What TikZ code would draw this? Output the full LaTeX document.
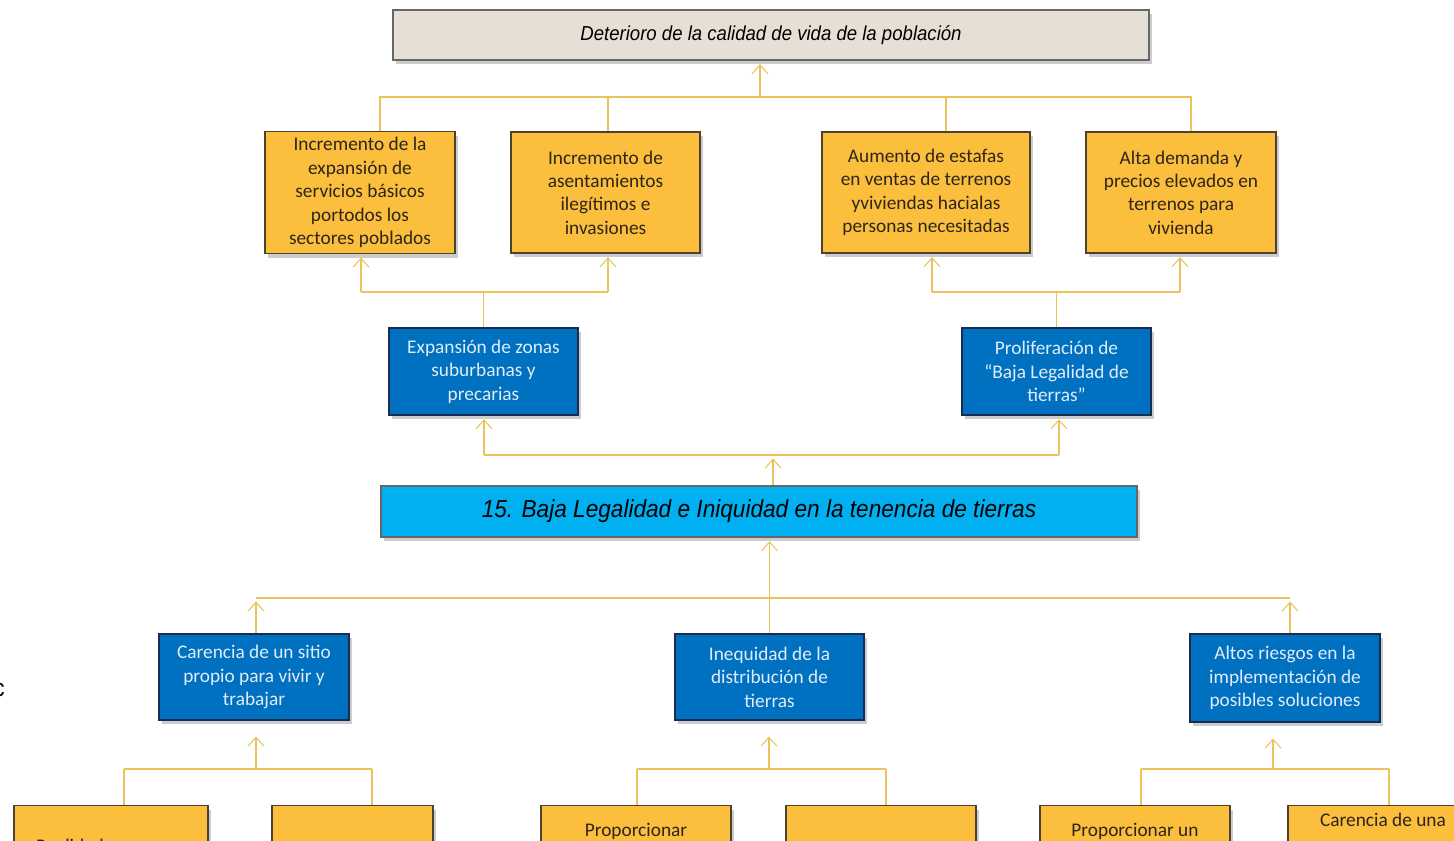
\documentclass[tikz,border=0pt]{standalone}
\usepackage{fontspec}
\usetikzlibrary{arrows.meta,shadows}
\newfontfamily\boxfont{Carlito}
\newfontfamily\headfont{Liberation Sans}[FakeStretch=0.92]
\definecolor{orangebox}{RGB}{251,190,61}
\definecolor{oborder}{RGB}{77,66,45}
\definecolor{otext}{RGB}{45,38,25}
\definecolor{bluebox}{RGB}{0,112,192}
\definecolor{bborder}{RGB}{25,45,80}
\definecolor{btext}{RGB}{225,236,248}
\definecolor{cyanbox}{RGB}{0,176,240}
\definecolor{topbox}{RGB}{230,223,213}
\definecolor{linecol}{RGB}{234,196,90}

\begin{document}
\begin{tikzpicture}[x=0.02cm, y=-0.02cm,
    shade/.style={drop shadow={shadow xshift=1.5pt, shadow yshift=-2.5pt, opacity=0.4}},
    obox/.style={draw=oborder, fill=orangebox, line width=0.8pt, shade, align=center,
        text=otext, font=\boxfont\fontsize{11}{13.3}\selectfont},
    bbox/.style={draw=bborder, fill=bluebox, line width=0.8pt, shade, align=center,
        text=btext, font=\boxfont\fontsize{11}{13.3}\selectfont},
    hbox/.style={draw=black!60, line width=0.8pt, shade, text=black},
    cline/.style={draw=linecol, line width=0.6pt},
    arr/.style={cline, -{Straight Barb[length=5pt,width=9pt]}, shorten >=2pt}]
    \useasboundingbox (0,0) rectangle (1454,841);
    \clip (0,0) rectangle (1454,841);
    \fill[white] (0,0) rectangle (1454,841);
    % Effects
    \node[hbox, fill=topbox, minimum width=15.12cm, minimum height=1cm,
        font=\headfont\itshape\fontsize{11.5}{13}\selectfont] (top) at (771,35)
        {Deterioro de la calidad de vida de la población};
    \node[obox, minimum width=3.8cm, minimum height=2.42cm] (A) at (360,192.5)
        {Incremento de la\\expansión de\\servicios básicos\\portodos los\\sectores poblados};
    \node[obox, minimum width=3.78cm, minimum height=2.42cm] (B) at (605.5,192.5)
        {Incremento de\\asentamientos\\ilegítimos e\\invasiones};
    \node[obox, minimum width=4.16cm, minimum height=2.42cm] (C) at (926,192.5)
        {Aumento de estafas\\en ventas de terrenos\\yviviendas hacialas\\personas necesitadas};
    \node[obox, minimum width=3.8cm, minimum height=2.42cm] (D) at (1181,192.5)
        {Alta demanda y\\precios elevados en\\terrenos para\\vivienda};
    \node[bbox, minimum width=3.78cm, minimum height=1.74cm] (E) at (483.5,371.5)
        {Expansión de zonas\\suburbanas y\\precarias};
    \node[bbox, minimum width=3.78cm, minimum height=1.74cm] (F) at (1056.5,371.5)
        {Proliferación de\\“Baja Legalidad de\\tierras”};
    % Problem
    \node[hbox, fill=cyanbox, minimum width=15.12cm, minimum height=1.02cm,
        font=\headfont\itshape\fontsize{14}{16}\selectfont] (G) at (759,511.5)
        {15. Baja Legalidad e Iniquidad en la tenencia de tierras};
    % Causes
    \node[bbox, minimum width=3.8cm, minimum height=1.72cm] (H) at (254,677)
        {Carencia de un sitio\\propio para vivir y\\trabajar};
    \node[bbox, minimum width=3.78cm, minimum height=1.72cm] (I) at (769.5,677)
        {Inequidad de la\\distribución de\\tierras};
    \node[bbox, minimum width=3.8cm, minimum height=1.76cm] (J) at (1285,678)
        {Altos riesgos en la\\implementación de\\posibles soluciones};
    \node[obox, anchor=north, minimum width=3.88cm, minimum height=2.4cm] (K) at (111,805) {};
    \node[obox, anchor=north, minimum width=3.22cm, minimum height=2.4cm] (L) at (352.5,805) {};
    \node[obox, anchor=north, minimum width=3.8cm, minimum height=2.4cm] (M) at (636,805) {};
    \node[obox, anchor=north, minimum width=3.8cm, minimum height=2.4cm] (N) at (881,805) {};
    \node[obox, anchor=north, minimum width=3.8cm, minimum height=2.4cm] (O) at (1135,805) {};
    \node[obox, anchor=north, minimum width=3.8cm, minimum height=2.4cm] (P) at (1383,805) {};
    \node[text=otext, font=\boxfont\fontsize{11}{13.3}\selectfont, anchor=west] (Kt) at (30,846) {Realidad};
    \node[text=otext, font=\boxfont\fontsize{11}{13.3}\selectfont] (Mt) at (636,831) {Proporcionar};
    \node[text=otext, font=\boxfont\fontsize{11}{13.3}\selectfont] (Ot) at (1135,831) {Proporcionar un};
    \node[text=otext, font=\boxfont\fontsize{11}{13.3}\selectfont] (Pt) at (1383,820) {Carencia de una};
    \node[font=\headfont\fontsize{14}{16}\selectfont] (edge) at (-1,690) {c};
    % Connections, effects
    \coordinate (t0) at (760,97);
    \coordinate (tA) at (380,97);
    \coordinate (tB) at (608,97);
    \coordinate (tC) at (946,97);
    \coordinate (tD) at (1191,97);
    \draw[arr] (t0) -- (t0 |- top.south);
    \draw[cline] (tA |- A.north) -- (tA) -- (tD) -- (tD |- D.north);
    \draw[cline] (tB) -- (tB |- B.north);
    \draw[cline] (tC) -- (tC |- C.north);
    \coordinate (eA) at (361,292);
    \coordinate (eB) at (608,292);
    \draw[cline] (E.north) -- (E.north |- eA);
    \draw[cline] (eA) -- (eB);
    \draw[arr] (eA) -- (eA |- A.south);
    \draw[arr] (eB) -- (eB |- B.south);
    \coordinate (fC) at (932,292);
    \coordinate (fD) at (1180,292);
    \draw[cline] (F.north) -- (F.north |- fC);
    \draw[cline] (fC) -- (fD);
    \draw[arr] (fC) -- (fC |- C.south);
    \draw[arr] (fD) -- (fD |- D.south);
    \coordinate (g0) at (773,455);
    \coordinate (gE) at (484,455);
    \coordinate (gF) at (1059,455);
    \draw[arr] (g0 |- G.north) -- (g0);
    \draw[cline] (gE) -- (gF);
    \draw[arr] (gE) -- (gE |- E.south);
    \draw[arr] (gF) -- (gF |- F.south);
    % Connections, causes
    \coordinate (h0) at (256,598);
    \coordinate (j0) at (1290,598);
    \draw[cline] (h0) -- (j0);
    \draw[arr] (I.north) -- (I.north |- G.south);
    \draw[arr] (h0 |- H.north) -- (h0);
    \draw[arr] (j0 |- J.north) -- (j0);
    \foreach \up/\a/\b/\c in {H/124/256/372, I/637/769/886, J/1141/1273/1389}{
        \draw[cline] (\a,769) -- (\c,769);
        \draw[cline] (\a,769) -- (\a,805);
        \draw[cline] (\c,769) -- (\c,805);
        \draw[arr, shorten >=9pt] (\b,769) -- (\b,769 |- \up.south);
    }
\end{tikzpicture}
\end{document}
